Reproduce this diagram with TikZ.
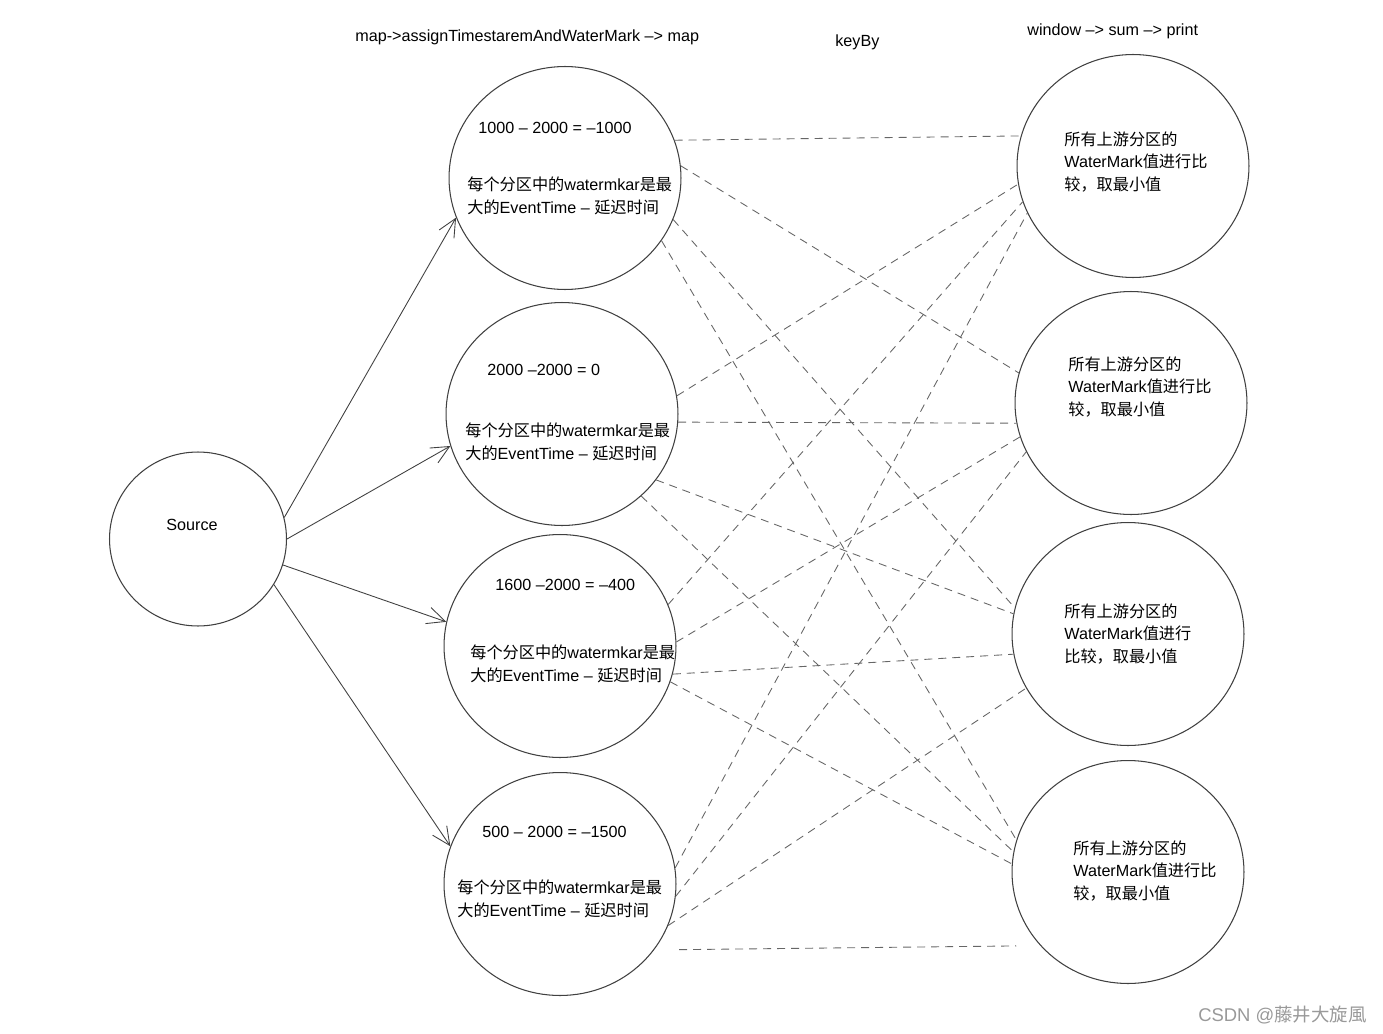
\documentclass[tikz,border=0pt]{standalone}
\usepackage{fontspec}
\setmainfont{Liberation Sans}
\newfontfamily\cjk{Noto Sans CJK SC}
\newcommand{\zh}[1]{{\cjk #1}}
\usetikzlibrary{shapes.geometric,arrows.meta}

\begin{document}
\begin{tikzpicture}[x=0.02cm, y=-0.02cm,
    bubble/.style={draw=black!75, line width=0.6pt, ellipse, minimum width=4.64cm, minimum height=4.46cm, inner sep=0pt},
    txt/.style={anchor=west, inner sep=0pt, align=left, font=\fontsize{9.2}{12.8}\selectfont},
    feed/.style={draw=black!75, line width=0.5pt, -{Straight Barb[length=3.6mm, width=3.4mm, line width=0.5pt]}},
    link/.style={draw=black!60, line width=0.5pt, dash pattern=on 0.16cm off 0.12cm}]
    \useasboundingbox (0, 0) rectangle (1383, 1034);

    % headers
    \node[txt] (h1) at (355, 37) {map->assignTimestaremAndWaterMark –> map};
    \node[txt] (h2) at (835, 42) {keyBy};
    \node[txt] (h3) at (1027, 31) {window –> sum –> print};

    % source
    \node[bubble, minimum width=3.54cm, minimum height=3.48cm] (src) at (198, 539) {};
    \node[txt, anchor=center] (srctxt) at (192, 525) {Source};

    % map partitions
    \node[bubble] (L1) at (565, 178) {};
    \node[bubble] (L2) at (562, 414) {};
    \node[bubble] (L3) at (560, 646) {};
    \node[bubble] (L4) at (560, 884) {};

    \node[txt] (f1) at (478, 128) {1000 – 2000 = –1000};
    \node[txt] (w1) at (467, 196) {\zh{每个分区中的}watermkar\zh{是最}\\\zh{大的}EventTime – \zh{延迟时间}};
    \node[txt] (f2) at (487, 370) {2000 –2000 = 0};
    \node[txt] (w2) at (465, 442) {\zh{每个分区中的}watermkar\zh{是最}\\\zh{大的}EventTime – \zh{延迟时间}};
    \node[txt] (f3) at (495, 585) {1600 –2000 = –400};
    \node[txt] (w3) at (470, 664) {\zh{每个分区中的}watermkar\zh{是最}\\\zh{大的}EventTime – \zh{延迟时间}};
    \node[txt] (f4) at (482, 832) {500 – 2000 = –1500};
    \node[txt] (w4) at (457, 899) {\zh{每个分区中的}watermkar\zh{是最}\\\zh{大的}EventTime – \zh{延迟时间}};

    % window partitions
    \node[bubble] (R1) at (1133, 166) {};
    \node[bubble] (R2) at (1131, 403) {};
    \node[bubble] (R3) at (1128, 634) {};
    \node[bubble] (R4) at (1128, 872) {};

    \node[txt] (m1) at (1064, 162) {\zh{所有上游分区的}\\WaterMark\zh{值进行比}\\\zh{较，取最小值}};
    \node[txt] (m2) at (1068, 387) {\zh{所有上游分区的}\\WaterMark\zh{值进行比}\\\zh{较，取最小值}};
    \node[txt] (m3) at (1064, 634) {\zh{所有上游分区的}\\WaterMark\zh{值进行}\\\zh{比较，取最小值}};
    \node[txt] (m4) at (1073, 871) {\zh{所有上游分区的}\\WaterMark\zh{值进行比}\\\zh{较，取最小值}};

    % source -> map
    \draw[feed] (src.14) -- (L1.200);
    \draw[feed] (src.0) -- (L2.196);
    \draw[feed] (src.-17) -- (L3.168);
    \draw[feed] (src.-31) -- (L4.161);

    % keyBy shuffle
    \foreach \a/\b/\p/\q in {1/1/19/165, 1/2/6/165, 1/3/-21/167, 1/4/-33/164,
                             2/1/9/189, 2/2/-4/190, 2/3/-35/170, 2/4/-46/170,
                             3/1/21/198, 3/2/2/197, 3/3/-14/190, 3/4/-18/176,
                             4/1/8/204, 4/2/-6/205, 4/3/-21/208}
        \draw[link] (L\a.\p) -- (R\b.\q);
    \draw[link, shorten <=0.5cm, shorten >=0.48cm] (L4.-35) -- (R4.220);

    \node[anchor=east, inner sep=0pt, text=black!40, font=\fontsize{10.5}{12}\selectfont] (mark) at (1367, 1015) {CSDN @\zh{藤井大旋風}};
\end{tikzpicture}
\end{document}
